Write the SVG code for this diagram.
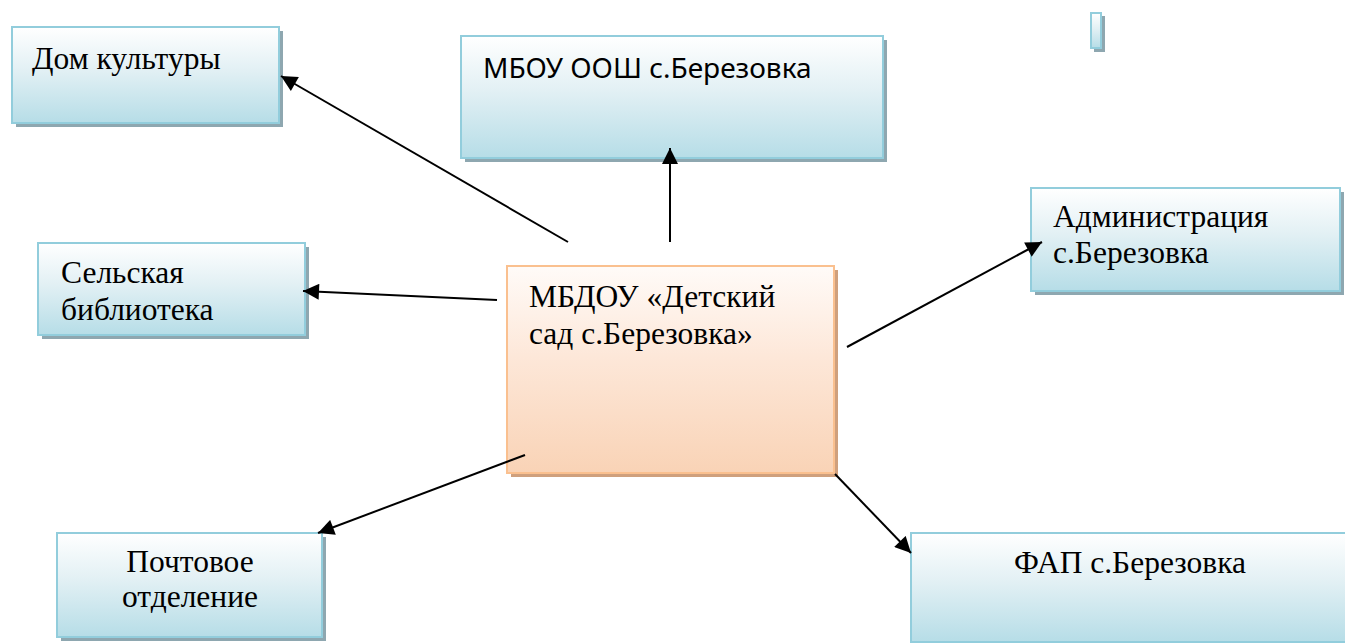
<svg xmlns="http://www.w3.org/2000/svg" width="1345" height="643" viewBox="0 0 1345 643">
<defs>
<linearGradient id="gb" x1="0" y1="0" x2="0" y2="1">
<stop offset="0" stop-color="#ffffff"/>
<stop offset="0.45" stop-color="#e2f0f4"/>
<stop offset="1" stop-color="#b6dde7"/>
</linearGradient>
<linearGradient id="go" x1="0" y1="0" x2="0" y2="1">
<stop offset="0" stop-color="#fffbf8"/>
<stop offset="0.45" stop-color="#fde7d8"/>
<stop offset="1" stop-color="#f9d3b6"/>
</linearGradient>
<marker id="ah" viewBox="0 0 10 10" refX="10" refY="5" markerWidth="9" markerHeight="8" orient="auto" markerUnits="strokeWidth">
<path d="M0,0 L10,5 L0,10 z" fill="#000"/>
</marker>
</defs>
<style>
.sh{fill:#8ea7b0}
.bx{fill:url(#gb);stroke:#92cddc;stroke-width:2}
.osh{fill:#cfa07d}
.ob{fill:url(#go);stroke:#fac08f;stroke-width:2}
.t{font-family:"Liberation Serif","Times New Roman",serif;font-size:31.5px;fill:#000}
.s{font-family:"Noto Sans","Open Sans",sans-serif;font-size:28px;fill:#000}
.c{stroke:#000;stroke-width:2;fill:none;marker-end:url(#ah)}
</style>
<rect width="1345" height="643" fill="#fff"/>
<g id="dom-kultury">
<rect class="sh" x="16" y="31" width="267" height="96"/>
<rect class="bx" x="12" y="27" width="267" height="96"/>
<text class="t" x="32" y="69">Дом культуры</text>
</g>
<g id="mbou">
<rect class="sh" x="465" y="40" width="422" height="122"/>
<rect class="bx" x="461" y="36" width="422" height="122"/>
<text class="s" x="483" y="78">МБОУ ООШ с.Березовка</text>
</g>
<g id="small">
<rect class="sh" x="1094" y="16" width="11" height="36"/>
<rect class="bx" x="1091" y="13" width="10" height="35"/>
</g>
<g id="administratsiya">
<rect class="sh" x="1035" y="192" width="309" height="103"/>
<rect class="bx" x="1031" y="188" width="309" height="103"/>
<text class="t" x="1053" y="227">Администрация</text>
<text class="t" x="1053" y="263">с.Березовка</text>
</g>
<g id="biblioteka">
<rect class="sh" x="42" y="247" width="267" height="92"/>
<rect class="bx" x="38" y="243" width="267" height="92"/>
<text class="t" x="61" y="283">Сельская</text>
<text class="t" x="61" y="320">библиотека</text>
</g>
<g id="mbdou">
<rect class="osh" x="511" y="270" width="327" height="207"/>
<rect class="ob" x="507" y="266" width="327" height="207"/>
<text class="t" x="529" y="307">МБДОУ «Детский</text>
<text class="t" x="529" y="344">сад с.Березовка»</text>
</g>
<g id="pochta">
<rect class="sh" x="61" y="537" width="265" height="104"/>
<rect class="bx" x="57" y="533" width="265" height="104"/>
<text class="t" x="190" y="572" text-anchor="middle">Почтовое</text>
<text class="t" x="190" y="607" text-anchor="middle">отделение</text>
</g>
<g id="fap">
<rect class="bx" x="911" y="533" width="440" height="109"/>
<text class="t" x="1130" y="573" text-anchor="middle">ФАП с.Березовка</text>
</g>
<g id="connectors">
<line class="c" x1="568" y1="242" x2="281" y2="76"/>
<line class="c" x1="670" y1="242" x2="670" y2="148"/>
<line class="c" x1="497" y1="300" x2="303" y2="291"/>
<line class="c" x1="847" y1="347" x2="1042" y2="242"/>
<line class="c" x1="525" y1="455" x2="318" y2="533"/>
<line class="c" x1="835" y1="474" x2="911" y2="553"/>
</g>
</svg>
